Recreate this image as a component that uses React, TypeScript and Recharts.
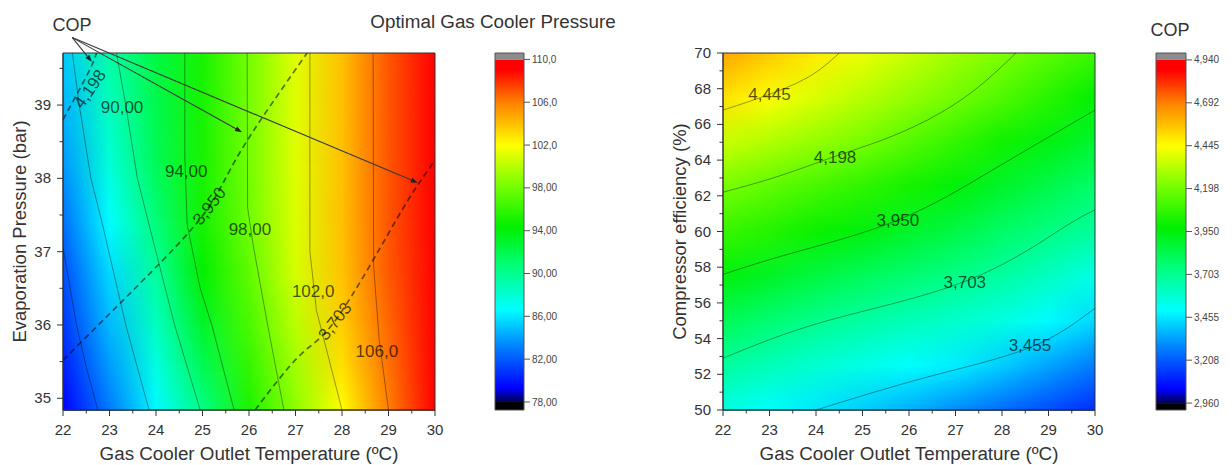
import React from 'react';
import { ComposedChart, XAxis, YAxis, Line, Scatter, ReferenceArea, ReferenceLine } from 'recharts';

const FONT = '"Liberation Sans", Arial, Helvetica, sans-serif';
const INK = '#333';

// x axis shared by both maps: gas cooler outlet temperature (ºC)
const tempCols = [22, 23, 24, 25, 26, 27, 28, 29, 30];
const tempTicks = [22, 22.5, 23, 23.5, 24, 24.5, 25, 25.5, 26, 26.5, 27, 27.5, 28, 28.5, 29, 29.5, 30];

// ---- left map: optimal gas cooler pressure (bar) over evaporation pressure ----
const pressRows = [34.84, 35.4, 36.0, 36.7, 37.4, 38.2, 39.0, 39.71];
const pgcGrid = [
  [79.3, 82.9, 86.5, 90.3, 95.2, 98.8, 102.0, 106.0, 109.6],
  [80.1, 83.8, 87.5, 91.7, 95.9, 99.4, 102.9, 106.3, 109.5],
  [80.9, 84.7, 88.5, 93.0, 96.7, 100.1, 103.5, 106.6, 109.6],
  [81.6, 85.6, 89.6, 94.4, 97.4, 100.8, 103.9, 106.9, 109.8],
  [82.6, 86.6, 90.7, 95.0, 97.9, 101.0, 104.0, 107.0, 109.9],
  [83.8, 87.8, 91.7, 95.1, 98.1, 101.1, 104.0, 107.0, 109.9],
  [84.6, 88.6, 92.0, 95.1, 98.1, 101.1, 104.0, 107.0, 109.9],
  [85.2, 89.4, 92.3, 95.1, 98.1, 101.1, 104.0, 107.0, 109.9],
];
const pressTicks = [35, 35.5, 36, 36.5, 37, 37.5, 38, 38.5, 39, 39.5];

const pgcIso82 = [{ x: 22.0, y: 37.05 }, { x: 22.1, y: 36.7 }, { x: 22.29, y: 36.0 }, { x: 22.51, y: 35.4 }, { x: 22.75, y: 34.84 }];
const pgcIso86 = [{ x: 22.2, y: 39.71 }, { x: 22.35, y: 39.0 }, { x: 22.6, y: 38.0 }, { x: 22.85, y: 37.37 }, { x: 23.35, y: 36.0 }, { x: 23.85, y: 34.84 }];
const pgcIso90 = [{ x: 23.15, y: 39.71 }, { x: 23.35, y: 39.0 }, { x: 23.6, y: 38.0 }, { x: 23.85, y: 37.37 }, { x: 24.4, y: 36.0 }, { x: 24.95, y: 34.84 }];
const pgcIso94 = [{ x: 24.62, y: 39.71 }, { x: 24.62, y: 38.3 }, { x: 24.67, y: 37.37 }, { x: 24.95, y: 36.5 }, { x: 25.2, y: 36.0 }, { x: 25.68, y: 34.84 }];
const pgcIso98 = [{ x: 25.96, y: 39.71 }, { x: 25.97, y: 37.6 }, { x: 26.09, y: 37.09 }, { x: 26.4, y: 36.0 }, { x: 26.75, y: 34.84 }];
const pgcIso102 = [{ x: 27.31, y: 39.71 }, { x: 27.31, y: 37.0 }, { x: 27.45, y: 36.2 }, { x: 28.0, y: 34.84 }];
const pgcIso106 = [{ x: 28.67, y: 39.71 }, { x: 28.68, y: 36.8 }, { x: 28.8, y: 35.8 }, { x: 29.0, y: 34.84 }];

// COP iso-lines laid over the pressure map (dashed)
const copOn4198 = [{ x: 22.0, y: 38.8 }, { x: 22.55, y: 39.45 }, { x: 22.72, y: 39.71 }];
const copOn3950 = [{ x: 22.0, y: 35.52 }, { x: 23.66, y: 36.57 }, { x: 25.05, y: 37.53 }, { x: 25.81, y: 38.36 }, { x: 27.25, y: 39.71 }];
const copOn3703 = [{ x: 26.13, y: 34.84 }, { x: 27.1, y: 35.59 }, { x: 27.9, y: 36.1 }, { x: 29.1, y: 37.36 }, { x: 29.63, y: 37.91 }, { x: 30.0, y: 38.25 }];

const pgcLabels = [
  { x: 23.27, y: 38.97, text: '90,00', angle: 0 },
  { x: 24.65, y: 38.09, text: '94,00', angle: 0 },
  { x: 26.02, y: 37.3, text: '98,00', angle: 0 },
  { x: 27.38, y: 36.45, text: '102,0', angle: 0 },
  { x: 28.75, y: 35.64, text: '106,0', angle: 0 },
  { x: 22.58, y: 39.22, text: '4,198', angle: -55 },
  { x: 25.15, y: 37.62, text: '3,950', angle: -52 },
  { x: 27.85, y: 36.05, text: '3,703', angle: -52 },
];

// "COP" callout arrows (from the note above the frame to each dashed line)
const copArrows = [
  { x1: 22.2, y1: 39.92, x2: 22.62, y2: 39.59 },
  { x1: 22.2, y1: 39.92, x2: 25.85, y2: 38.63 },
  { x1: 22.2, y1: 39.92, x2: 29.63, y2: 37.94 },
];

// ---- right map: COP over compressor efficiency (%) ----
const effRows = [50, 52.5, 55, 57.5, 60, 62.5, 65, 67.5, 70];
const copGrid = [
  [3.55, 3.50, 3.455, 3.41, 3.36, 3.30, 3.24, 3.18, 3.12],
  [3.68, 3.63, 3.58, 3.54, 3.50, 3.465, 3.41, 3.34, 3.27],
  [3.81, 3.76, 3.71, 3.67, 3.63, 3.59, 3.55, 3.49, 3.43],
  [3.95, 3.90, 3.85, 3.80, 3.76, 3.72, 3.67, 3.61, 3.54],
  [4.08, 4.04, 3.99, 3.948, 3.89, 3.84, 3.78, 3.73, 3.68],
  [4.21, 4.16, 4.11, 4.06, 4.01, 3.955, 3.89, 3.83, 3.77],
  [4.35, 4.31, 4.26, 4.21, 4.14, 4.07, 4.00, 3.94, 3.88],
  [4.50, 4.44, 4.38, 4.32, 4.26, 4.20, 4.13, 4.05, 3.97],
  [4.62, 4.55, 4.48, 4.41, 4.35, 4.28, 4.22, 4.15, 4.09],
];
const effTicks = [50, 51, 52, 53, 54, 55, 56, 57, 58, 59, 60, 61, 62, 63, 64, 65, 66, 67, 68, 69, 70];

const copIso4445 = [{ x: 22, y: 66.8 }, { x: 22.8, y: 67.5 }, { x: 23.8, y: 68.6 }, { x: 24.5, y: 70 }];
const copIso4198 = [{ x: 22, y: 62.2 }, { x: 23.2, y: 63.1 }, { x: 24.4, y: 64.2 }, { x: 25.4, y: 65.1 }, { x: 26.4, y: 66.25 }, { x: 27.4, y: 67.9 }, { x: 28.3, y: 70 }];
const copIso3950 = [{ x: 22, y: 57.6 }, { x: 23.5, y: 58.8 }, { x: 25.76, y: 60.64 }, { x: 27.8, y: 63.45 }, { x: 30, y: 66.8 }];
const copIso3703 = [{ x: 22, y: 52.9 }, { x: 24.24, y: 55.0 }, { x: 27.2, y: 57.2 }, { x: 29.25, y: 60.1 }, { x: 30, y: 61.2 }];
const copIso3455 = [{ x: 24.0, y: 50 }, { x: 26.4, y: 51.85 }, { x: 28.6, y: 53.5 }, { x: 30, y: 55.7 }];

const copLabels = [
  { x: 23.0, y: 67.65, text: '4,445', angle: 0 },
  { x: 24.41, y: 64.17, text: '4,198', angle: 0 },
  { x: 25.76, y: 60.64, text: '3,950', angle: 0 },
  { x: 27.2, y: 57.17, text: '3,703', angle: 0 },
  { x: 28.6, y: 53.64, text: '3,455', angle: 0 },
];

// colour scales
const pgcBarTicks = [78, 82, 86, 90, 94, 98, 102, 106, 110];
const pgcBarLabels = ['78,00', '82,00', '86,00', '90,00', '94,00', '98,00', '102,0', '106,0', '110,0'];
const copBarTicks = [2.96, 3.2075, 3.455, 3.7025, 3.95, 4.1975, 4.445, 4.6925, 4.94];
const copBarLabels = ['2,960', '3,208', '3,455', '3,703', '3,950', '4,198', '4,445', '4,692', '4,940'];

const rainbowStops: [number, string][] = [
  [0.0, '#000050'],
  [0.04, '#0000ff'],
  [0.16, '#0080ff'],
  [0.27, '#00ffff'],
  [0.39, '#00ff80'],
  [0.51, '#00f000'],
  [0.64, '#80ff00'],
  [0.75, '#ffff00'],
  [0.875, '#ff8000'],
  [0.97, '#ff0000'],
  [1.0, '#ff0000'],
];

function hexRgb(h: string) {
  return [parseInt(h.slice(1, 3), 16), parseInt(h.slice(3, 5), 16), parseInt(h.slice(5, 7), 16)];
}

function rainbow(t: number) {
  const c = Math.max(0, Math.min(1, t));
  for (let i = 1; i < rainbowStops.length; i++) {
    const [t1, h1] = rainbowStops[i];
    if (c <= t1) {
      const [t0, h0] = rainbowStops[i - 1];
      const f = t1 === t0 ? 0 : (c - t0) / (t1 - t0);
      const a = hexRgb(h0), b = hexRgb(h1);
      const m = a.map((v, k) => Math.round(v + (b[k] - v) * f));
      return `rgb(${m[0]},${m[1]},${m[2]})`;
    }
  }
  return rainbowStops[rainbowStops.length - 1][1];
}

const scaleOf = (ticks: number[]) => (v: number) => rainbow((v - ticks[0]) / (ticks[ticks.length - 1] - ticks[0]));
const pgcColor = scaleOf(pgcBarTicks);
const copColor = scaleOf(copBarTicks);

// one horizontal band of the map: lower row gradient, upper row faded in from the top
function FieldBand(p: any) {
  const { x, y, width, height, id, lo, hi, toColor } = p;
  if (width == null || height == null) return null;
  const x0 = tempCols[0];
  const span = tempCols[tempCols.length - 1] - x0;
  const stops = (row: number[]) =>
    row.map((v, k) => <stop key={k} offset={(tempCols[k] - x0) / span} stopColor={toColor(v)} />);
  return (
    <g>
      <defs>
        <linearGradient id={`${id}lo`} x1="0" y1="0" x2="1" y2="0">{stops(lo)}</linearGradient>
        <linearGradient id={`${id}hi`} x1="0" y1="0" x2="1" y2="0">{stops(hi)}</linearGradient>
        <linearGradient id={`${id}fd`} x1="0" y1="0" x2="0" y2="1">
          <stop offset="0" stopColor="#fff" />
          <stop offset="1" stopColor="#000" />
        </linearGradient>
        <mask id={`${id}mk`} maskUnits="userSpaceOnUse" x={x} y={y - 1} width={width} height={height + 2}>
          <rect x={x} y={y} width={width} height={height} fill={`url(#${id}fd)`} />
        </mask>
      </defs>
      <rect x={x} y={y} width={width} height={height + 0.8} fill={`url(#${id}lo)`} />
      <rect x={x} y={y} width={width} height={height} fill={`url(#${id}hi)`} mask={`url(#${id}mk)`} />
    </g>
  );
}

const XTick = (p: any) => {
  const { x, y, payload } = p;
  const major = Number.isInteger(payload.value);
  return (
    <g>
      <line x1={x} x2={x} y1={y} y2={y + (major ? 6 : 3.5)} stroke={INK} />
      {major && (
        <text x={x} y={y + 25} textAnchor="middle" fontSize={15} fill={INK}>{payload.value}</text>
      )}
    </g>
  );
};

const makeYTick = (isMajor: (v: number) => boolean) => (p: any) => {
  const { x, y, payload } = p;
  const major = isMajor(payload.value);
  return (
    <g>
      <line x1={x} x2={x - (major ? 6 : 3.5)} y1={y} y2={y} stroke={INK} />
      {major && (
        <text x={x - 12} y={y + 5} textAnchor="end" fontSize={15} fill={INK}>{payload.value}</text>
      )}
    </g>
  );
};

const ContourLabel = (p: any) => {
  const { cx, cy, payload } = p;
  if (cx == null || cy == null) return null;
  return (
    <text x={cx} y={cy} textAnchor="middle" dominantBaseline="central" fontSize={17}
      fill="#000" fillOpacity={0.68} transform={`rotate(${payload.angle} ${cx} ${cy})`}>
      {payload.text}
    </text>
  );
};

const ArrowShape = (p: any) => {
  const { x1, y1, x2, y2 } = p;
  if (x1 == null) return null;
  const a = Math.atan2(y2 - y1, x2 - x1);
  const L = 7, W = 2.6;
  const bx = x2 - L * Math.cos(a), by = y2 - L * Math.sin(a);
  const pts = `${x2},${y2} ${bx - W * Math.sin(a)},${by + W * Math.cos(a)} ${bx + W * Math.sin(a)},${by - W * Math.cos(a)}`;
  return (
    <g>
      <line x1={x1} y1={y1} x2={bx} y2={by} stroke="#3a3a3a" strokeWidth={1.1} />
      <polygon points={pts} fill="#222" />
    </g>
  );
};

function MapChart(props: any) {
  const { id, rows, grid, yDomain, yTicks, yMajor, yTitle, iso, isoType, dashed, labels, arrows, toColor } = props;
  return (
    <ComposedChart width={450} height={465} margin={{ top: 53, right: 15, bottom: 0, left: 0 }}>
      <XAxis type="number" dataKey="x" domain={[22, 30]} allowDataOverflow ticks={tempTicks} interval={0}
        tick={XTick} tickLine={false} tickSize={0} tickMargin={0} height={55} axisLine={{ stroke: INK }}
        label={{ value: 'Gas Cooler Outlet Temperature (ºC)', position: 'center', dy: 16, fontSize: 18.8, fill: INK }} />
      <YAxis type="number" dataKey="y" domain={yDomain} allowDataOverflow ticks={yTicks} interval={0}
        tick={makeYTick(yMajor)} tickLine={false} tickSize={0} tickMargin={0} width={63} axisLine={{ stroke: INK }}
        label={{ value: yTitle, angle: -90, position: 'center', dx: -12, fontSize: 18.5, fill: INK }} />

      {rows.slice(0, -1).map((y0: number, i: number) => (
        <ReferenceArea key={`b${i}`} x1={22} x2={30} y1={y0} y2={rows[i + 1]} ifOverflow="visible"
          shape={(s: any) => <FieldBand {...s} id={`${id}${i}`} lo={grid[i]} hi={grid[i + 1]} toColor={toColor} />} />
      ))}
      <ReferenceArea x1={22} x2={30} y1={yDomain[0]} y2={yDomain[1]} fill="none" fillOpacity={0} stroke={INK} strokeWidth={1} ifOverflow="visible" />

      {iso.map((pts: any[], i: number) => (
        <Line key={`iso${i}`} data={pts} dataKey="y" type={isoType} stroke="#000" strokeOpacity={0.42} strokeWidth={0.9}
          dot={false} activeDot={false} isAnimationActive={false} />
      ))}
      {dashed.map((pts: any[], i: number) => (
        <Line key={`d${i}`} data={pts} dataKey="y" type="natural" stroke="#000" strokeOpacity={0.55} strokeWidth={1.7}
          strokeDasharray="6 4" dot={false} activeDot={false} isAnimationActive={false} />
      ))}
      {arrows.map((a: any, i: number) => (
        <ReferenceLine key={`a${i}`} ifOverflow="visible" segment={[{ x: a.x1, y: a.y1 }, { x: a.x2, y: a.y2 }]} shape={ArrowShape} />
      ))}
      <Scatter data={labels} isAnimationActive={false} shape={ContourLabel} />
    </ComposedChart>
  );
}

function ColorBar(props: any) {
  const { id, width, padLeft, axisW, domain, ticks, labels } = props;
  const lo = ticks[0], hi = ticks[ticks.length - 1];
  const Bar = (s: any) => {
    if (s.width == null) return null;
    return (
      <g>
        <defs>
          <linearGradient id={`${id}cb`} x1="0" y1="1" x2="0" y2="0">
            {rainbowStops.map(([t, c], k) => <stop key={k} offset={t} stopColor={c} />)}
          </linearGradient>
        </defs>
        <rect x={s.x} y={s.y} width={s.width} height={s.height} fill={`url(#${id}cb)`} />
      </g>
    );
  };
  return (
    <ComposedChart width={width} height={465} margin={{ top: 53, right: 0, bottom: 55, left: padLeft }} data={[{ x: 0 }, { x: 1 }]}>
      <XAxis hide type="number" dataKey="x" domain={[0, 1]} />
      <YAxis orientation="right" type="number" domain={domain} allowDataOverflow ticks={ticks} interval={0} width={axisW}
        tickSize={6} tickMargin={2} axisLine={false} tickLine={{ stroke: '#555' }}
        tick={{ fontSize: 10, fill: '#444' }} tickFormatter={(v: number) => labels[ticks.indexOf(v)]} />
      <ReferenceArea x1={0} x2={1} y1={domain[0]} y2={lo} fill="#000" fillOpacity={1} ifOverflow="visible" />
      <ReferenceArea x1={0} x2={1} y1={lo} y2={hi} shape={Bar} ifOverflow="visible" />
      <ReferenceArea x1={0} x2={1} y1={hi} y2={domain[1]} fill="#8c8c8c" fillOpacity={1} ifOverflow="visible" />
      <ReferenceArea x1={0} x2={1} y1={domain[0]} y2={domain[1]} fill="none" fillOpacity={0} stroke="#555" strokeWidth={1} ifOverflow="visible" />
    </ComposedChart>
  );
}

const titleStyle: React.CSSProperties = {
  position: 'absolute', transform: 'translate(-50%, -50%)', fontSize: 18, color: INK, whiteSpace: 'nowrap',
};

export default function App() {
  return (
    <div style={{ position: 'absolute', left: 0, top: 0, width: 1232, height: 465, background: '#fff', fontFamily: FONT, overflow: 'hidden' }}>
      <div style={{ position: 'absolute', left: 0, top: 0 }}>
        <MapChart id="pgc" rows={pressRows} grid={pgcGrid} yDomain={[34.84, 39.71]} yTicks={pressTicks}
          yMajor={(v: number) => Number.isInteger(v)} yTitle="Evaporation Pressure (bar)"
          iso={[pgcIso82, pgcIso86, pgcIso90, pgcIso94, pgcIso98, pgcIso102, pgcIso106]} isoType="linear"
          dashed={[copOn4198, copOn3950, copOn3703]} labels={pgcLabels} arrows={copArrows} toColor={pgcColor} />
      </div>
      <div style={{ position: 'absolute', left: 470, top: 0 }}>
        <ColorBar id="pgcbar" width={110} padLeft={25} axisW={56} domain={[77.25, 110.6]} ticks={pgcBarTicks} labels={pgcBarLabels} />
      </div>
      <div style={{ position: 'absolute', left: 660, top: 0 }}>
        <MapChart id="cop" rows={effRows} grid={copGrid} yDomain={[50, 70]} yTicks={effTicks}
          yMajor={(v: number) => v % 2 === 0} yTitle="Compressor efficiency (%)"
          iso={[copIso4445, copIso4198, copIso3950, copIso3703, copIso3455]} isoType="natural"
          dashed={[]} labels={copLabels} arrows={[]} toColor={copColor} />
      </div>
      <div style={{ position: 'absolute', left: 1130, top: 0 }}>
        <ColorBar id="copbar" width={102} padLeft={26} axisW={46} domain={[2.92, 4.98]} ticks={copBarTicks} labels={copBarLabels} />
      </div>
      <div style={{ ...titleStyle, left: 493, top: 22, fontSize: 18.8 }}>Optimal Gas Cooler Pressure</div>
      <div style={{ ...titleStyle, left: 72, top: 25 }}>COP</div>
      <div style={{ ...titleStyle, left: 1170, top: 30 }}>COP</div>
    </div>
  );
}
